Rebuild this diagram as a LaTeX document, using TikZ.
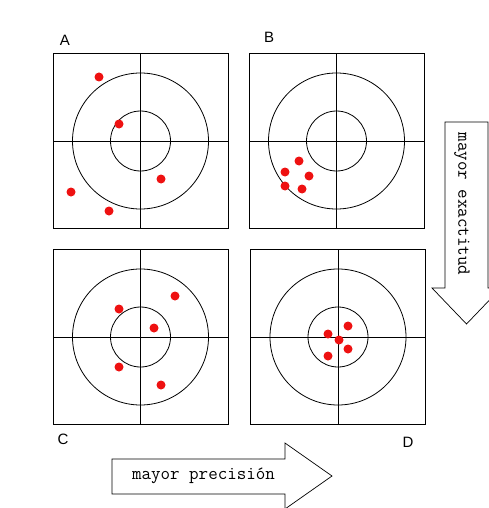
\documentclass[tikz,border=0pt]{standalone}
\usepackage{fontspec}
\setmainfont{Liberation Sans}
\usepackage{tikz}
\usetikzlibrary{arrows.meta,positioning}
\definecolor{hitred}{HTML}{EE1111}

\begin{document}
\begin{tikzpicture}[x=1pt,y=-1pt,font=\fontsize{15}{15}\selectfont,>=Latex,
  ring/.style={line width=0.8pt},
  hit/.style={fill=hitred},
  bigarrow/.style={draw,line width=0.7pt,fill=white},
  arrowtext/.style={font=\ttfamily\fontsize{18.5}{18.5}\selectfont,inner sep=0pt}]
\useasboundingbox (0,0) rectangle (489,508);
\clip (0,0) rectangle (489,508);
% four targets
\foreach \cx/\cy in {140.5/141,336.5/141,140.5/337,338/337} {
  \draw[ring] (\cx-87.5,\cy-87.5) rectangle (\cx+87.5,\cy+87.5);
  \draw[ring] (\cx-87.5,\cy) -- (\cx+87.5,\cy);
  \draw[ring] (\cx,\cy-87.5) -- (\cx,\cy+87.5);
  \draw[ring] (\cx,\cy) circle (68pt);
  \draw[ring] (\cx,\cy) circle (30pt);
}
\node (labA) at (65,40) {A};
\node (labB) at (269,37) {B};
\node (labC) at (63,439) {C};
\node (labD) at (408,442) {D};
% shots
\foreach \p in {(99,77),(119,124),(161,179),(71,192),(109,211)} {
  \fill[hit] \p circle (4.5pt);
}
\foreach \p in {(299,161),(285,172),(309,176),(285,186),(302,189)} {
  \fill[hit] \p circle (4.5pt);
}
\foreach \p in {(175,296),(119,309),(154,328),(119,367),(161,385)} {
  \fill[hit] \p circle (4.5pt);
}
\foreach \p in {(348,326),(328,334),(339,340),(348,349),(328,356)} {
  \fill[hit] \p circle (4.5pt);
}
% arrows
\draw[bigarrow] (445,122) -- (488,122) -- (488,288) -- (501,288) -- (466.5,324)
  -- (432,288) -- (445,288) -- cycle;
\node[arrowtext,rotate=-90] (exact) at (462,204) {mayor exactitud};
\draw[bigarrow] (112,459) -- (285,459) -- (285,443) -- (332,476) -- (285,509)
  -- (285,494) -- (112,494) -- cycle;
\node[arrowtext] (prec) at (203.5,476) {mayor precisión};
\end{tikzpicture}
\end{document}
